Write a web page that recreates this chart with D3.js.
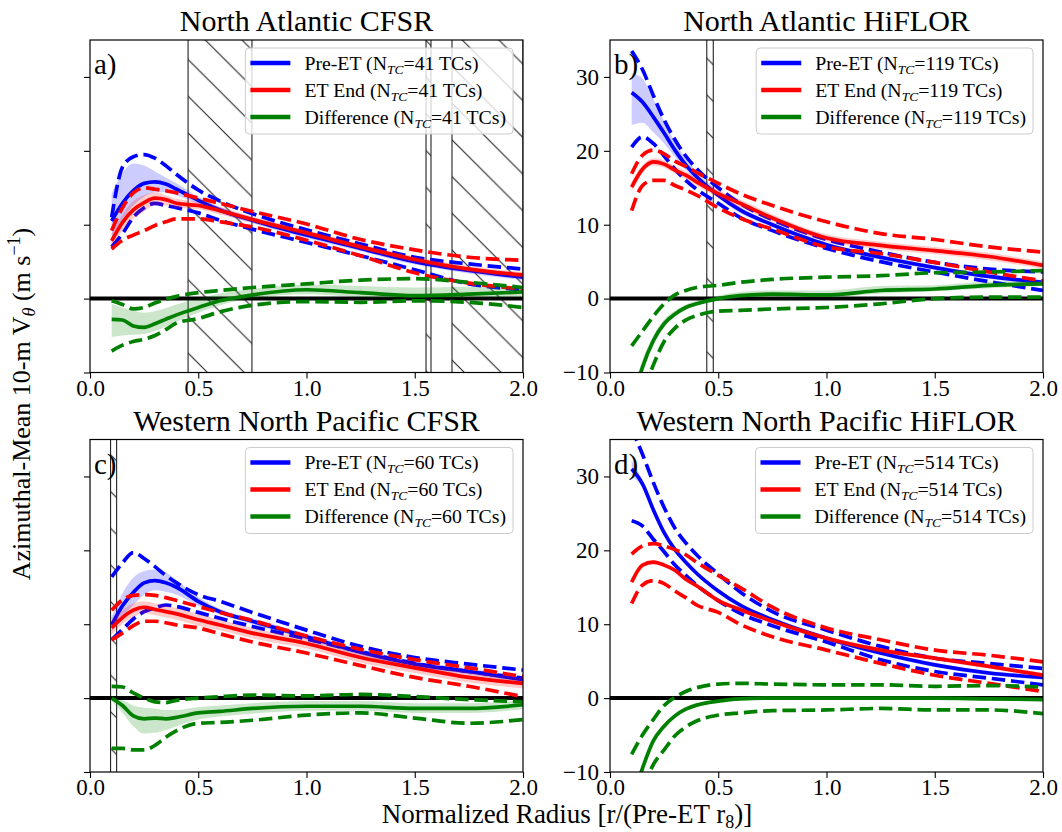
<!DOCTYPE html>
<html>
<head>
<meta charset="utf-8">
<script src="https://cdn.jsdelivr.net/npm/d3@7"></script>
<style>
  body { margin: 0; background: #fff; }
  text { font-family: "Liberation Serif", "DejaVu Serif", serif; fill: #000; }
</style>
</head>
<body>
<div id="chart"></div>
<script>
// normalized radius sample points
const R = [0.1, 0.15, 0.2, 0.25, 0.3, 0.35, 0.4, 0.5, 0.6, 0.75, 1.0, 1.25, 1.5, 1.75, 2.0];

// a) North Atlantic CFSR
const aPreMean = [10.5, 12.9, 14.6, 15.6, 15.8, 15.5, 14.8, 13.3, 12.0, 10.6, 8.6, 6.8, 5.0, 3.8, 2.9];
const aPreBandHi = [14.2, 17.0, 18.3, 18.0, 17.2, 16.4, 15.6, 13.8, 12.4, 11.0, 9.0, 7.2, 5.4, 4.2, 3.3];
const aPreBandLo = [7.4, 10.6, 12.6, 13.8, 14.4, 14.4, 14.0, 12.8, 11.6, 10.2, 8.2, 6.4, 4.6, 3.4, 2.5];
const aPreHi = [11.0, 17.8, 19.2, 19.5, 19.0, 18.0, 16.8, 14.7, 13.2, 11.5, 9.3, 7.4, 5.6, 4.7, 4.0];
const aPreLo = [7.0, 8.8, 11.0, 12.3, 12.9, 12.6, 12.3, 11.6, 10.6, 9.4, 7.6, 5.8, 3.9, 2.0, 1.2];
const aEndMean = [7.8, 10.3, 12.0, 13.0, 13.6, 13.4, 12.9, 12.6, 11.9, 10.7, 8.9, 7.0, 5.3, 4.0, 3.2];
const aEndBandHi = [8.8, 11.4, 13.2, 14.0, 14.4, 14.0, 13.5, 13.1, 12.4, 11.1, 9.3, 7.4, 5.7, 4.4, 3.6];
const aEndBandLo = [7.0, 9.2, 10.8, 11.8, 12.6, 12.6, 12.3, 12.1, 11.4, 10.3, 8.5, 6.6, 4.9, 3.6, 2.8];
const aEndHi = [9.2, 12.3, 14.3, 15.0, 14.8, 14.6, 14.3, 13.6, 12.9, 11.8, 10.1, 8.0, 6.6, 5.6, 5.2];
const aEndLo = [6.7, 7.9, 8.6, 9.2, 9.9, 10.4, 10.8, 10.8, 10.4, 9.7, 7.9, 5.8, 3.5, 2.1, 1.3];
const aDiffMean = [-2.8, -2.9, -3.7, -3.9, -3.4, -2.8, -2.2, -1.2, -0.3, 0.5, 1.2, 0.8, 0.4, 0.6, 0.9];
const aDiffBandHi = [-0.7, -1.2, -1.6, -1.9, -1.7, -1.3, -0.8, 0.0, 0.7, 1.3, 1.9, 1.7, 1.5, 1.6, 1.7];
const aDiffBandLo = [-5.2, -5.0, -4.9, -4.8, -4.4, -3.8, -3.1, -1.9, -0.9, 0.0, 0.6, 0.2, 0.0, 0.1, 0.3];
const aDiffHi = [-0.3, -0.8, -1.4, -1.2, -0.6, -0.1, 0.3, 0.8, 1.1, 1.5, 2.0, 2.5, 2.7, 2.2, 1.5];
const aDiffLo = [-7.1, -6.3, -5.8, -5.5, -5.0, -4.2, -3.3, -2.7, -1.8, -0.9, -0.4, -0.5, -0.3, -0.5, -1.2];

// b) North Atlantic HiFLOR
const bPreMean = [27.9, 26.6, 24.6, 22.4, 20.1, 18.1, 16.5, 14.0, 12.0, 10.0, 7.3, 5.6, 4.2, 3.0, 2.2];
const bPreBandHi = [30.5, 29.8, 27.0, 24.0, 21.2, 19.0, 17.2, 14.5, 12.4, 10.3, 7.6, 5.9, 4.5, 3.3, 2.5];
const bPreBandLo = [23.5, 23.8, 22.5, 21.0, 19.2, 17.4, 16.0, 13.6, 11.6, 9.7, 7.0, 5.3, 3.9, 2.7, 1.9];
const bPreHi = [33.5, 31.0, 27.5, 24.2, 21.5, 19.3, 17.6, 15.0, 12.9, 10.7, 8.0, 6.3, 4.9, 4.0, 3.6];
const bPreLo = [20.5, 21.9, 21.0, 19.3, 17.5, 16.0, 14.8, 12.9, 11.0, 9.2, 6.8, 5.0, 3.6, 2.3, 1.1];
const bEndMean = [15.1, 17.5, 18.5, 18.2, 17.4, 16.7, 15.8, 14.2, 12.9, 10.9, 8.2, 7.2, 6.5, 5.7, 4.5];
const bEndBandHi = [15.8, 18.0, 19.0, 18.7, 17.9, 17.2, 16.3, 14.7, 13.4, 11.4, 8.7, 7.7, 7.0, 6.2, 5.0];
const bEndBandLo = [14.5, 17.0, 18.0, 17.7, 16.9, 16.2, 15.3, 13.7, 12.4, 10.4, 7.7, 6.7, 6.0, 5.2, 4.0];
const bEndHi = [16.9, 19.4, 20.1, 19.6, 18.6, 17.9, 17.1, 15.6, 14.2, 12.6, 10.4, 8.8, 8.0, 7.0, 6.3];
const bEndLo = [11.9, 15.3, 16.0, 16.0, 15.3, 14.7, 14.0, 12.3, 10.9, 9.4, 7.0, 6.1, 4.9, 3.6, 2.4];
const bDiffMean = [-14.5, -9.3, -5.7, -3.4, -2.1, -1.2, -0.7, 0.0, 0.4, 0.6, 0.5, 1.1, 1.3, 1.8, 2.0];
const bDiffBandHi = [-13.0, -8.3, -5.0, -2.8, -1.6, -0.8, -0.3, 0.4, 0.9, 1.1, 1.1, 1.7, 1.8, 2.3, 2.4];
const bDiffBandLo = [-15.5, -10.0, -6.3, -3.9, -2.5, -1.5, -1.0, -0.3, 0.1, 0.3, 0.2, 0.7, 1.0, 1.4, 1.7];
const bDiffHi = [-6.4, -4.4, -2.4, -0.7, 0.5, 1.1, 1.5, 1.8, 2.2, 2.6, 2.9, 3.1, 3.5, 3.6, 3.8];
const bDiffLo = [-17.0, -13.0, -9.0, -5.8, -4.0, -2.9, -2.3, -1.7, -1.6, -1.4, -1.2, -0.7, 0.0, 0.2, 0.2];

// c) Western North Pacific CFSR
const cPreMean = [9.9, 12.5, 14.3, 15.6, 15.9, 15.6, 15.0, 13.1, 11.7, 10.4, 8.3, 6.2, 4.6, 3.6, 2.5];
const cPreBandHi = [11.0, 14.2, 16.3, 17.2, 17.4, 17.0, 16.0, 13.7, 12.1, 10.8, 8.7, 6.6, 5.0, 4.0, 2.9];
const cPreBandLo = [9.0, 11.0, 12.6, 14.0, 14.6, 14.4, 14.0, 12.5, 11.3, 10.0, 7.9, 5.8, 4.2, 3.2, 2.1];
const cPreHi = [16.4, 18.3, 19.7, 18.9, 17.8, 16.6, 15.6, 14.0, 13.1, 11.6, 9.2, 7.0, 5.5, 4.6, 3.8];
const cPreLo = [7.9, 9.3, 10.7, 11.7, 12.2, 12.6, 12.4, 11.6, 10.8, 9.7, 8.0, 6.3, 4.7, 3.6, 2.7];
const cEndMean = [9.5, 10.9, 11.9, 12.3, 12.0, 11.7, 11.4, 10.6, 9.9, 8.8, 7.4, 5.5, 4.1, 2.8, 2.0];
const cEndBandHi = [10.5, 11.9, 12.8, 13.1, 12.8, 12.5, 12.2, 11.4, 10.6, 9.5, 8.1, 6.2, 4.8, 3.5, 2.7];
const cEndBandLo = [8.6, 10.0, 11.0, 11.5, 11.2, 10.9, 10.6, 9.8, 9.2, 8.1, 6.7, 4.8, 3.4, 2.1, 1.3];
const cEndHi = [11.9, 13.3, 13.9, 14.0, 13.9, 13.6, 13.2, 12.4, 11.6, 10.5, 8.4, 6.6, 5.2, 4.1, 2.9];
const cEndLo = [7.9, 8.8, 9.8, 10.4, 10.4, 10.2, 9.9, 9.5, 8.7, 7.6, 6.1, 4.4, 2.8, 1.6, 0.2];
const cDiffMean = [0.0, -1.0, -2.4, -2.8, -2.7, -2.8, -2.6, -2.0, -1.8, -1.4, -1.1, -1.1, -1.4, -1.4, -0.9];
const cDiffBandHi = [0.0, -0.3, -1.0, -1.3, -1.4, -1.6, -1.6, -1.2, -1.0, -0.7, -0.4, -0.4, -0.7, -0.7, -0.3];
const cDiffBandLo = [-0.4, -2.0, -3.8, -4.8, -4.7, -4.3, -3.8, -2.9, -2.5, -2.1, -1.7, -1.7, -2.0, -2.0, -1.5];
const cDiffHi = [1.6, 1.5, 0.7, 0.0, -0.5, -0.6, -0.3, 0.0, 0.2, 0.4, 0.3, 0.5, 0.2, -0.2, -0.5];
const cDiffLo = [-6.8, -6.8, -7.0, -7.0, -6.4, -5.3, -4.4, -3.4, -3.3, -3.0, -2.3, -2.0, -2.7, -3.4, -2.9];

// d) Western North Pacific HiFLOR
const dPreMean = [31.0, 29.0, 25.5, 22.4, 20.1, 18.4, 16.9, 14.5, 12.6, 10.6, 8.1, 6.1, 4.5, 3.4, 2.8];
const dPreBandHi = [32.2, 29.5, 25.9, 22.8, 20.4, 18.7, 17.2, 14.8, 12.9, 10.9, 8.4, 6.4, 4.8, 3.7, 3.1];
const dPreBandLo = [30.0, 28.5, 25.1, 22.0, 19.8, 18.1, 16.6, 14.2, 12.3, 10.3, 7.8, 5.8, 4.2, 3.1, 2.5];
const dPreHi = [36.5, 33.0, 29.2, 25.8, 23.0, 21.0, 19.4, 16.8, 14.4, 11.7, 9.2, 7.0, 5.4, 4.7, 4.0];
const dPreLo = [24.0, 23.3, 21.5, 19.8, 18.0, 16.6, 15.3, 13.2, 11.5, 9.8, 7.6, 5.2, 3.6, 2.7, 1.8];
const dEndMean = [15.7, 18.0, 18.4, 18.0, 17.3, 16.1, 15.2, 13.2, 12.0, 10.4, 8.1, 6.5, 5.4, 4.3, 3.1];
const dEndBandHi = [16.0, 18.3, 18.7, 18.3, 17.6, 16.4, 15.5, 13.5, 12.3, 10.7, 8.4, 6.8, 5.7, 4.6, 3.4];
const dEndBandLo = [15.4, 17.7, 18.1, 17.7, 17.0, 15.8, 14.9, 12.9, 11.7, 10.1, 7.8, 6.2, 5.1, 4.0, 2.8];
const dEndHi = [19.5, 20.6, 20.9, 20.6, 20.1, 19.4, 18.4, 16.6, 15.0, 12.3, 9.5, 7.9, 6.5, 5.8, 4.9];
const dEndLo = [12.8, 15.3, 15.9, 15.5, 14.5, 13.6, 12.6, 11.6, 10.0, 8.3, 6.5, 4.7, 3.1, 2.0, 0.9];
const dDiffMean = [-14.0, -9.5, -5.8, -3.8, -2.4, -1.5, -0.95, -0.4, -0.1, 0.0, 0.0, 0.0, 0.0, -0.1, -0.2];
const dDiffBandHi = [-13.6, -9.2, -5.5, -3.5, -2.1, -1.2, -0.7, -0.2, 0.1, 0.2, 0.2, 0.2, 0.2, 0.1, 0.0];
const dDiffBandLo = [-14.4, -9.8, -6.1, -4.1, -2.7, -1.8, -1.2, -0.6, -0.3, -0.2, -0.2, -0.2, -0.2, -0.3, -0.4];
const dDiffHi = [-7.6, -5.0, -2.9, -1.0, 0.1, 0.9, 1.4, 1.9, 2.0, 1.9, 1.8, 1.8, 1.6, 1.7, 1.5];
const dDiffLo = [-17.0, -12.5, -9.0, -7.0, -5.1, -3.9, -3.1, -2.3, -2.0, -1.7, -1.6, -1.4, -1.6, -1.6, -2.1];

const titles = ["North Atlantic CFSR", "North Atlantic HiFLOR", "Western North Pacific CFSR", "Western North Pacific HiFLOR"];
const letters = ["a)", "b)", "c)", "d)"];
const nTCs = [41, 119, 60, 514];
// masked radius intervals (hatched)
const hatches = [[[0.453, 0.748], [1.552, 1.575], [1.672, 2.0]], [[0.447, 0.477]], [[0.095, 0.123]], []];
const seriesNames = ["Pre-ET", "ET End", "Difference"];
const seriesColors = ["#0000ff", "#ff0000", "#008000"];
const xTicks = [0, 0.5, 1.0, 1.5, 2.0];
const yTicks = [-10, 0, 10, 20, 30];

const panelData = [
  [[aPreMean, aPreBandLo, aPreBandHi, aPreLo, aPreHi], [aEndMean, aEndBandLo, aEndBandHi, aEndLo, aEndHi], [aDiffMean, aDiffBandLo, aDiffBandHi, aDiffLo, aDiffHi]],
  [[bPreMean, bPreBandLo, bPreBandHi, bPreLo, bPreHi], [bEndMean, bEndBandLo, bEndBandHi, bEndLo, bEndHi], [bDiffMean, bDiffBandLo, bDiffBandHi, bDiffLo, bDiffHi]],
  [[cPreMean, cPreBandLo, cPreBandHi, cPreLo, cPreHi], [cEndMean, cEndBandLo, cEndBandHi, cEndLo, cEndHi], [cDiffMean, cDiffBandLo, cDiffBandHi, cDiffLo, cDiffHi]],
  [[dPreMean, dPreBandLo, dPreBandHi, dPreLo, dPreHi], [dEndMean, dEndBandLo, dEndBandHi, dEndLo, dEndHi], [dDiffMean, dDiffBandLo, dDiffBandHi, dDiffLo, dDiffHi]]
];

const width = 1062, height = 832;
const pw = 433, ph = 332.5;
const origins = [[90, 40], [610, 40], [90, 439.5], [610, 439.5]];

const svg = d3.select("#chart").append("svg")
  .attr("width", width).attr("height", height);

const defs = svg.append("defs");
const hp = 36.7;
const pat = defs.append("pattern")
  .attr("id", "hatch")
  .attr("patternUnits", "userSpaceOnUse")
  .attr("x", 0).attr("y", 31.5)
  .attr("width", hp).attr("height", hp);
pat.append("path")
  .attr("d", `M0,0L${hp},${hp}M${-hp / 2},${hp / 2}L${hp / 2},${hp * 1.5}M${hp / 2},${-hp / 2}L${hp * 1.5},${hp / 2}`)
  .attr("stroke", "#222").attr("stroke-width", 1.1);

const x = d3.scaleLinear().domain([0, 2]).range([0, pw]);
const y = d3.scaleLinear().domain([-10, 35]).range([ph, 0]);

const line = d3.line().x((d, i) => x(R[i])).y(d => y(d)).curve(d3.curveMonotoneX);
const area = d3.area().x(d => x(d[0])).y0(d => y(d[1])).y1(d => y(d[2])).curve(d3.curveMonotoneX);

panelData.forEach((series, p) => {
  const [ox, oy] = origins[p];
  const g = svg.append("g").attr("transform", `translate(${ox},${oy})`);

  defs.append("clipPath").attr("id", "clip" + p)
    .append("rect").attr("width", pw).attr("height", ph);

  const plot = g.append("g").attr("clip-path", `url(#clip${p})`);

  // hatched masked regions
  hatches[p].forEach(h => {
    plot.append("rect")
      .attr("x", x(h[0])).attr("y", -2)
      .attr("width", x(h[1]) - x(h[0])).attr("height", ph + 4)
      .attr("fill", "url(#hatch)")
      .attr("stroke", "#222").attr("stroke-width", 1.1);
  });

  // zero line
  plot.append("line")
    .attr("x1", 0).attr("x2", pw)
    .attr("y1", y(0)).attr("y2", y(0))
    .attr("stroke", "#000").attr("stroke-width", 4);

  series.forEach((s, k) => {
    const [mean, bLo, bHi, lo, hi] = s;
    const c = seriesColors[k];
    plot.append("path")
      .datum(R.map((r, i) => [r, bLo[i], bHi[i]]))
      .attr("d", area)
      .attr("fill", c).attr("fill-opacity", 0.2);
    plot.append("path").datum(mean).attr("d", line)
      .attr("fill", "none").attr("stroke", c).attr("stroke-width", 3.7);
    [lo, hi].forEach(arr => {
      plot.append("path").datum(arr).attr("d", line)
        .attr("fill", "none").attr("stroke", c).attr("stroke-width", 3.7)
        .attr("stroke-dasharray", "13.5,5.8");
    });
  });

  // frame
  g.append("rect").attr("width", pw).attr("height", ph)
    .attr("fill", "none").attr("stroke", "#000").attr("stroke-width", 1.2);

  // axes
  const xa = g.append("g").attr("transform", `translate(0,${ph})`)
    .call(d3.axisBottom(x).tickValues(xTicks).tickFormat(d3.format(".1f"))
      .tickSize(6).tickPadding(1).tickSizeOuter(0));
  const ya = g.append("g")
    .call(d3.axisLeft(y).tickValues(yTicks)
      .tickFormat(d => (p % 2 === 0) ? "" : (d < 0 ? "\u2212" + Math.abs(d) : d))
      .tickSize(6).tickPadding(5).tickSizeOuter(0));
  [xa, ya].forEach(a => {
    a.select(".domain").remove();
    a.selectAll("line").attr("stroke", "#000").attr("stroke-width", 1.1);
    a.selectAll("text").attr("font-size", 23)
      .attr("font-family", '"Liberation Serif", serif').attr("fill", "#000");
  });

  // title
  g.append("text")
    .attr("x", pw / 2).attr("y", -9)
    .attr("text-anchor", "middle").attr("font-size", 30)
    .text(titles[p]);

  // panel letter
  g.append("text")
    .attr("x", 4).attr("y", 34)
    .attr("font-size", 29)
    .text(letters[p]);

  // legend
  const lg = g.append("g");
  const box = lg.append("rect");
  const texts = [];
  seriesNames.forEach((name, k) => {
    const ry = 23 + 27 * k;
    lg.append("line").attr("class", "lgl")
      .attr("y1", ry).attr("y2", ry)
      .attr("stroke", seriesColors[k]).attr("stroke-width", 4.5);
    const t = lg.append("text").attr("y", ry + 6.5).attr("font-size", 19.8);
    t.append("tspan").text(name + " (N");
    t.append("tspan").attr("font-size", 13.5).attr("font-style", "italic").attr("dy", 4).text("TC");
    t.append("tspan").attr("dy", -4).text("=" + nTCs[p] + " TCs)");
    texts.push(t);
  });
  const tw = d3.max(texts, t => t.node().getComputedTextLength());
  const bw = 59 + tw + 7;
  const bx = pw - 10 - bw;
  box.attr("x", bx).attr("y", 8).attr("width", bw).attr("height", 86).attr("rx", 4)
    .attr("fill", "#fff").attr("fill-opacity", 0.8)
    .attr("stroke", "#cccccc").attr("stroke-width", 1);
  lg.selectAll(".lgl").attr("x1", bx + 5).attr("x2", bx + 45);
  texts.forEach(t => t.attr("x", bx + 59));
});

// axis labels
const xl = svg.append("text")
  .attr("x", 567).attr("y", 823)
  .attr("text-anchor", "middle").attr("font-size", 27);
xl.append("tspan").text("Normalized Radius [r/(Pre-ET r");
xl.append("tspan").attr("font-size", 18).attr("dy", 5).text("8");
xl.append("tspan").attr("dy", -5).text(")]");

const yl = svg.append("text")
  .attr("transform", "translate(30,404) rotate(-90)")
  .attr("text-anchor", "middle").attr("font-size", 26);
yl.append("tspan").text("Azimuthal-Mean 10-m V");
yl.append("tspan").attr("font-size", 18).attr("font-style", "italic").attr("dy", 5).text("\u03b8");
yl.append("tspan").attr("dy", -5).text(" (m s");
yl.append("tspan").attr("font-size", 18).attr("dy", -10).text("\u22121");
yl.append("tspan").attr("dy", 10).text(")");
</script>
</body>
</html>
